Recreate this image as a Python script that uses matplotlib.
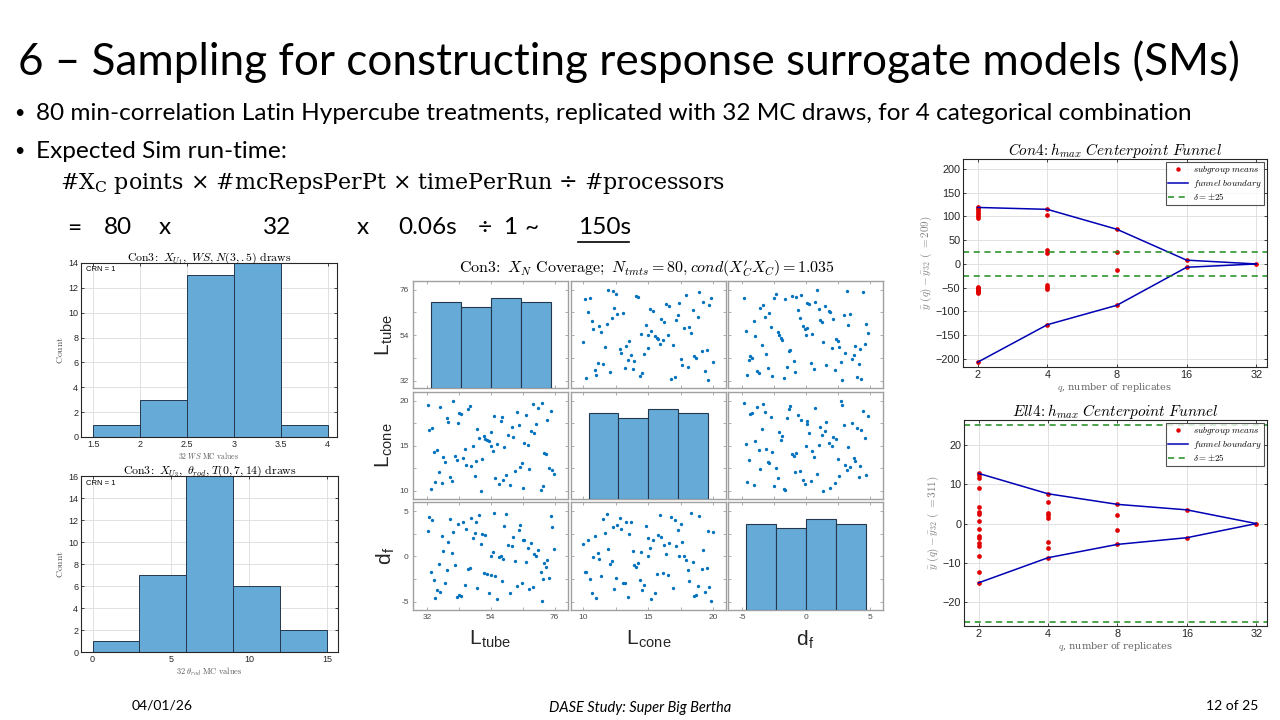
import matplotlib.pyplot as plt
import numpy as np
from matplotlib.lines import Line2D

plt.rcParams["mathtext.fontset"] = "cm"

W, H = 1280, 720

# left histograms (MC draws)
ws_edges = [1.5, 2.0, 2.5, 3.0, 3.5, 4.0]
ws_counts = [1, 3, 13, 14, 1]
theta_edges = [0, 3, 6, 9, 12, 15]
theta_counts = [1, 7, 16, 6, 2]

# LHS design points (80 treatments)
l_tube = [32.2, 32.8, 33.3, 33.9, 34.3, 34.9, 35.5, 36.1, 36.6, 37.2,
          37.7, 38.3, 38.8, 39.4, 39.9, 40.5, 41.0, 41.7, 42.2, 42.7,
          43.2, 43.8, 44.4, 45.1, 45.6, 46.3, 46.9, 47.2, 47.8, 48.4,
          48.9, 49.4, 49.9, 50.6, 51.1, 51.7, 52.1, 52.7, 53.5, 53.9,
          54.0, 54.6, 55.0, 55.5, 56.2, 56.8, 57.4, 57.9, 58.3, 58.7,
          59.4, 60.1, 60.6, 61.2, 61.8, 62.3, 62.9, 63.7, 64.0, 64.6,
          65.1, 65.4, 66.2, 66.8, 67.3, 67.9, 68.4, 69.0, 69.5, 70.2,
          71.3, 71.7, 71.9, 72.4, 73.0, 73.5, 74.0, 74.6, 75.1, 75.7]
l_cone = [19.59, 16.75, 10.23, 17.02, 14.33, 11.01, 14.55, 12.05, 19.33, 10.86,
          13.81, 13.17, 18.06, 17.61, 11.50, 11.12, 19.96, 13.92, 13.44, 17.54,
          18.66, 18.55, 13.66, 14.70, 12.91, 19.14, 19.48, 12.80, 14.96, 11.64,
          13.29, 16.87, 15.90, 10.00, 13.55, 16.12, 15.78, 15.64, 15.49, 14.96,
          16.49, 14.44, 18.32, 11.38, 15.23, 10.71, 17.76, 18.17, 11.23, 14.85,
          11.79, 16.23, 10.64, 17.13, 15.97, 12.17, 18.81, 17.28, 12.61, 13.06,
          10.34, 15.34, 18.47, 15.11, 12.39, 16.61, 19.70, 16.38, 17.39, 19.22,
          10.12, 19.81, 10.49, 14.22, 14.07, 17.91, 12.54, 18.92, 12.32, 11.91]
d_f = [2.86, 4.35, -1.74, 3.99, -2.65, -4.64, -3.73, -0.87, -3.88, 2.25,
       0.62, -2.97, -1.49, 1.59, 4.13, 0.36, 2.72, -0.98, -4.49, 3.62,
       -4.28, -4.38, 3.77, -3.12, 3.08, -1.34, -1.23, 4.24, 2.03, 2.61,
       3.84, -3.48, 4.60, 1.34, 2.50, -1.88, 2.36, -1.99, -3.99, 0.00,
       -2.10, 0.47, 4.86, -2.21, -4.75, -0.11, 0.05, -2.75, -0.25, 3.33,
       4.71, 1.23, -4.09, 1.12, 2.14, -0.51, -3.22, 2.97, 3.44, -2.90,
       1.88, 1.78, -0.65, 0.98, -3.62, 1.45, -3.41, 0.25, 0.11, 0.72,
       -1.67, -4.89, -2.50, -0.76, -1.12, -0.40, -2.39, 4.46, 3.22, 0.87]

# diagonal histograms of the scatter matrix
tube_edges = [33.4, 43.7, 54.0, 64.3, 74.6]
cone_edges = [10.4, 12.7, 15.0, 17.3, 19.6]
df_edges = [-4.7, -2.35, 0.0, 2.35, 4.7]
tube_counts = [20, 19, 21, 20]
cone_counts = [20, 19, 21, 20]
df_counts = [20, 19, 21, 20]

# funnel plots
q_levels = [2, 4, 8, 16, 32]
con4_upper = [119, 115, 73, 8, 0]
con4_lower = [-207, -128, -87, -7, 0]
con4_q2 = [120, 117, 113, 110, 105, 100, 97, -48, -50, -52, -54, -56, -58, -60, -61, -207]
con4_q4 = [115, 104, 29, 23, -45, -49, -53, -128]
con4_q8 = [73, 26, -12, -87]
con4_q16 = [8, -7]
con4_q32 = [0]

ell4_upper = [12.8, 7.6, 4.9, 3.5, 0]
ell4_lower = [-15.1, -8.7, -5.3, -3.6, 0]
ell4_q2 = [12.8, 12.3, 11.6, 9.0, 4.3, 3.0, 2.4, 0.6, -1.3, -3.2, -3.6, -5.0, -5.6, -8.3, -12.4, -15.1]
ell4_q4 = [7.6, 5.4, 2.8, 2.2, 1.5, -4.7, -6.1, -8.7]
ell4_q8 = [4.9, 2.1, -1.7, -5.3]
ell4_q16 = [3.5, -3.6]
ell4_q32 = [0]

BAR_FACE = "#66aad7"
BAR_EDGE = "#23384c"
DOT_BLUE = "#0072bd"


def rect(x0, y0, x1, y1):
    return [x0 / W, 1 - y1 / H, (x1 - x0) / W, (y1 - y0) / H]


def ftext(x, y, s, **kw):
    fig.text(x / W, 1 - y / H, s, **kw)


def matlab_axes(ax, spine="#262626", size=6.5):
    for sp in ax.spines.values():
        sp.set_color(spine)
        sp.set_linewidth(0.8)
    ax.tick_params(direction="in", top=True, right=True, length=2.5,
                   width=0.6, labelsize=size, colors="#262626", pad=2)
    for lab in ax.get_xticklabels() + ax.get_yticklabels():
        lab.set_family("Liberation Sans")
    ax.grid(True, color="#dcdcdc", lw=0.6)
    ax.set_axisbelow(True)


fig = plt.figure(figsize=(12.8, 7.2), dpi=100)

# ---------------- slide text ----------------
ftext(18, 62, "6 – Sampling for constructing response surrogate models (SMs)",
      fontsize=31.8, family="Lato", va="center")
ftext(14, 113, "•", fontsize=13, family="Lato", va="center")
ftext(36, 113, "80 min-correlation Latin Hypercube treatments, replicated with 32 MC draws, "
      "for 4 categorical combination", fontsize=17.6, family="Lato", va="center")
ftext(14, 151, "•", fontsize=13, family="Lato", va="center")
ftext(36, 151, "Expected Sim run-time:", fontsize=17.6, family="Lato", va="center")
ftext(60, 183, r"#X$_\mathregular{C}$ points $\times$ #mcRepsPerPt $\times$ timePerRun "
      r"$\div$ #processors", fontsize=15.9, family="DejaVu Serif",
      math_fontfamily="dejavuserif", va="center")
calc_tokens = ["=", "80", "x", "32", "x", "0.06s", "÷", "1", "~", "150s"]
calc_x = [67, 104, 159, 263, 357, 398, 478, 503, 524, 578]
for tok, xx in zip(calc_tokens, calc_x):
    ftext(xx, 228, tok, fontsize=17.6, family="Lato", va="center")
fig.add_artist(Line2D([578 / W, 629 / W], [1 - 242 / H, 1 - 242 / H],
                      color="black", lw=1.2, transform=fig.transFigure))

ftext(132, 705, "04/01/26", fontsize=10, family="Lato", va="center")
ftext(640, 708, "DASE Study: Super Big Bertha", fontsize=10.5, family="Lato",
      style="italic", va="center", ha="center")
ftext(1258, 706, "12 of 25", fontsize=10, family="Lato", va="center", ha="right")

# ---------------- left histograms ----------------
ax = fig.add_axes(rect(81, 263, 337, 437))
ax.bar(ws_edges[:-1], ws_counts, width=np.diff(ws_edges), align="edge",
       color=BAR_FACE, edgecolor=BAR_EDGE, lw=0.7)
ax.set_xlim(1.37, 4.1)
ax.set_ylim(0, 14)
ax.set_xticks(ws_edges)
ax.set_xticklabels(["1.5", "2", "2.5", "3", "3.5", "4"])
ax.set_yticks(range(0, 15, 2))
matlab_axes(ax)
ax.set_title(r"$\mathrm{Con3\!:}\ X_{U_1},\ WS, N(3,.5)\ \mathrm{draws}$",
             fontsize=8.5, pad=2)
ax.set_ylabel(r"$\mathrm{Count}$", fontsize=7, color="#595959", labelpad=2)
ax.set_xlabel(r"$\mathrm{32}\ WS\ \mathrm{MC\ values}$", fontsize=5.5,
              color="#595959", labelpad=1)
ax.text(0.02, 0.98, "CRN = 1", transform=ax.transAxes, va="top", fontsize=5.5,
        family="Liberation Sans")

ax = fig.add_axes(rect(81, 476, 338, 652))
ax.bar(theta_edges[:-1], theta_counts, width=np.diff(theta_edges), align="edge",
       color=BAR_FACE, edgecolor=BAR_EDGE, lw=0.7)
ax.set_xlim(-0.74, 15.7)
ax.set_ylim(0, 16)
ax.set_xticks([0, 5, 10, 15])
ax.set_yticks(range(0, 17, 2))
matlab_axes(ax)
ax.set_title(r"$\mathrm{Con3\!:}\ X_{U_3},\ \theta_{rod}, T(0,7,14)\ \mathrm{draws}$",
             fontsize=8.5, pad=2)
ax.set_ylabel(r"$\mathrm{Count}$", fontsize=7, color="#595959", labelpad=2)
ax.set_xlabel(r"$\mathrm{32}\ \theta_{rod}\ \mathrm{MC\ values}$", fontsize=6,
              color="#595959", labelpad=1)
ax.text(0.02, 0.98, "CRN = 1", transform=ax.transAxes, va="top", fontsize=5.5,
        family="Liberation Sans")

# ---------------- scatter matrix ----------------
data = [l_tube, l_cone, d_f]
edges = [tube_edges, cone_edges, df_edges]
counts = [tube_counts, cone_counts, df_counts]
names = [r"L$_\mathregular{tube}$", r"L$_\mathregular{cone}$", r"d$_\mathregular{f}$"]
ticks = [[32, 43, 54, 65, 76], [10, 12.5, 15, 17.5, 20], [-5, -2.5, 0, 2.5, 5]]
tick_labels = [["32", "", "54", "", "76"], ["10", "", "15", "", "20"],
               ["-5", "", "0", "", "5"]]
xlims = [(27.2, 80.6), (9.05, 20.98), (-6.13, 6.04)]
ylims = [(28.5, 80.1), (9.08, 21.0), (-5.92, 6.03)]
col_px = [(413, 568), (571, 726), (728, 883)]
row_px = [(281, 388), (392, 499), (502, 610)]

for r in range(3):
    for c in range(3):
        box = rect(col_px[c][0], row_px[r][0], col_px[c][1], row_px[r][1])
        ax = fig.add_axes(box)
        if r != c:
            ax.plot(data[c], data[r], "o", ms=2.4, color=DOT_BLUE, mec="none")
        ax.set_xlim(xlims[c])
        ax.set_ylim(ylims[r])
        ax.set_xticks(ticks[c])
        ax.set_yticks(ticks[r])
        ax.set_xticklabels(tick_labels[c] if r == 2 else [])
        ax.set_yticklabels(tick_labels[r] if c == 0 else [])
        for sp in ax.spines.values():
            sp.set_color("#a0a0a0")
            sp.set_linewidth(1.0)
        ax.tick_params(direction="in", top=True, right=True, length=2.5,
                       width=0.6, colors="#a0a0a0", labelcolor="#4d4d4d",
                       labelsize=6, pad=3)
        for lab in ax.get_xticklabels() + ax.get_yticklabels():
            lab.set_family("Liberation Sans")
        if c == 0:
            ax.set_ylabel(names[r], fontsize=15, family="Liberation Sans",
                          labelpad=3, color="#262626")
        if r == 2:
            ax.set_xlabel(names[c], fontsize=15, family="Liberation Sans",
                          labelpad=5, color="#262626")
        if r == c:
            axh = fig.add_axes(box)
            axh.bar(edges[r][:-1], counts[r], width=np.diff(edges[r]), align="edge",
                    color=BAR_FACE, edgecolor=BAR_EDGE, lw=0.8)
            axh.set_xlim(xlims[c])
            axh.set_ylim(0, 25)
            axh.axis("off")

ftext(647, 268, r"$\mathrm{Con3\!:}\ X_N\ \mathrm{Coverage;}\ N_{tmts} = 80, cond(X_C^{\prime}X_C) = 1.035$",
      fontsize=11.5, ha="center", va="center")

# ---------------- funnel plots ----------------
def funnel(box, upper, lower, means, delta, ylim, yticks, ylab, title):
    ax = fig.add_axes(rect(*box))
    for q, m in zip(q_levels, means):
        ax.plot([q] * len(m), m, "o", ms=3.4, color="#e00000", mec="none")
    ax.plot(q_levels, upper, color="#0000b4", lw=1.1)
    ax.plot(q_levels, lower, color="#0000b4", lw=1.1)
    ax.axhline(delta, color="#1e8c1e", lw=1.1, ls=(0, (4, 3)))
    ax.axhline(-delta, color="#1e8c1e", lw=1.1, ls=(0, (4, 3)))
    ax.set_xscale("log", base=2)
    ax.set_xlim(1.73, 35.6)
    ax.set_ylim(ylim)
    ax.set_xticks(q_levels)
    ax.set_xticklabels([str(q) for q in q_levels])
    ax.minorticks_off()
    ax.set_yticks(yticks)
    matlab_axes(ax, size=7.8)
    ax.set_title(title, fontsize=11, pad=3)
    ax.set_ylabel(ylab, fontsize=8, color="#808080", labelpad=1)
    ax.set_xlabel(r"$q$, number of replicates", fontsize=7, color="#666666",
                  family="DejaVu Serif", math_fontfamily="cm", labelpad=1)
    handles = [
        Line2D([], [], ls="none", marker="o", ms=3.2, color="#e00000", mec="none"),
        Line2D([], [], color="#0000b4", lw=1.1),
        Line2D([], [], color="#1e8c1e", lw=1.1, ls=(0, (4, 3))),
    ]
    leg = ax.legend(handles, [r"$subgroup\ means$", r"$funnel\ boundary$",
                              r"$\delta = \pm 25$"],
                    loc="upper right", fontsize=6.5, frameon=True, fancybox=False,
                    borderpad=0.3, labelspacing=0.15, handlelength=2.2,
                    handletextpad=0.5, borderaxespad=0.3)
    leg.get_frame().set_edgecolor("#262626")
    leg.get_frame().set_linewidth(0.8)
    return ax


funnel((963, 159, 1267, 367), con4_upper, con4_lower,
       [con4_q2, con4_q4, con4_q8, con4_q16, con4_q32], 25, (-217, 221),
       range(-200, 201, 50),
       r"$\bar{y}\ (q) - \bar{y}_{32}\ (\ = 209)$",
       r"$Con4\!:h_{max}\ Centerpoint\ Funnel$")
funnel((964, 420, 1267, 626), ell4_upper, ell4_lower,
       [ell4_q2, ell4_q4, ell4_q8, ell4_q16, ell4_q32], 25, (-26.1, 26.4),
       [-20, -10, 0, 10, 20],
       r"$\bar{y}\ (q) - \bar{y}_{32}\ (\ = 311)$",
       r"$Ell4\!:h_{max}\ Centerpoint\ Funnel$")

fig.savefig("out.png", dpi=100)
